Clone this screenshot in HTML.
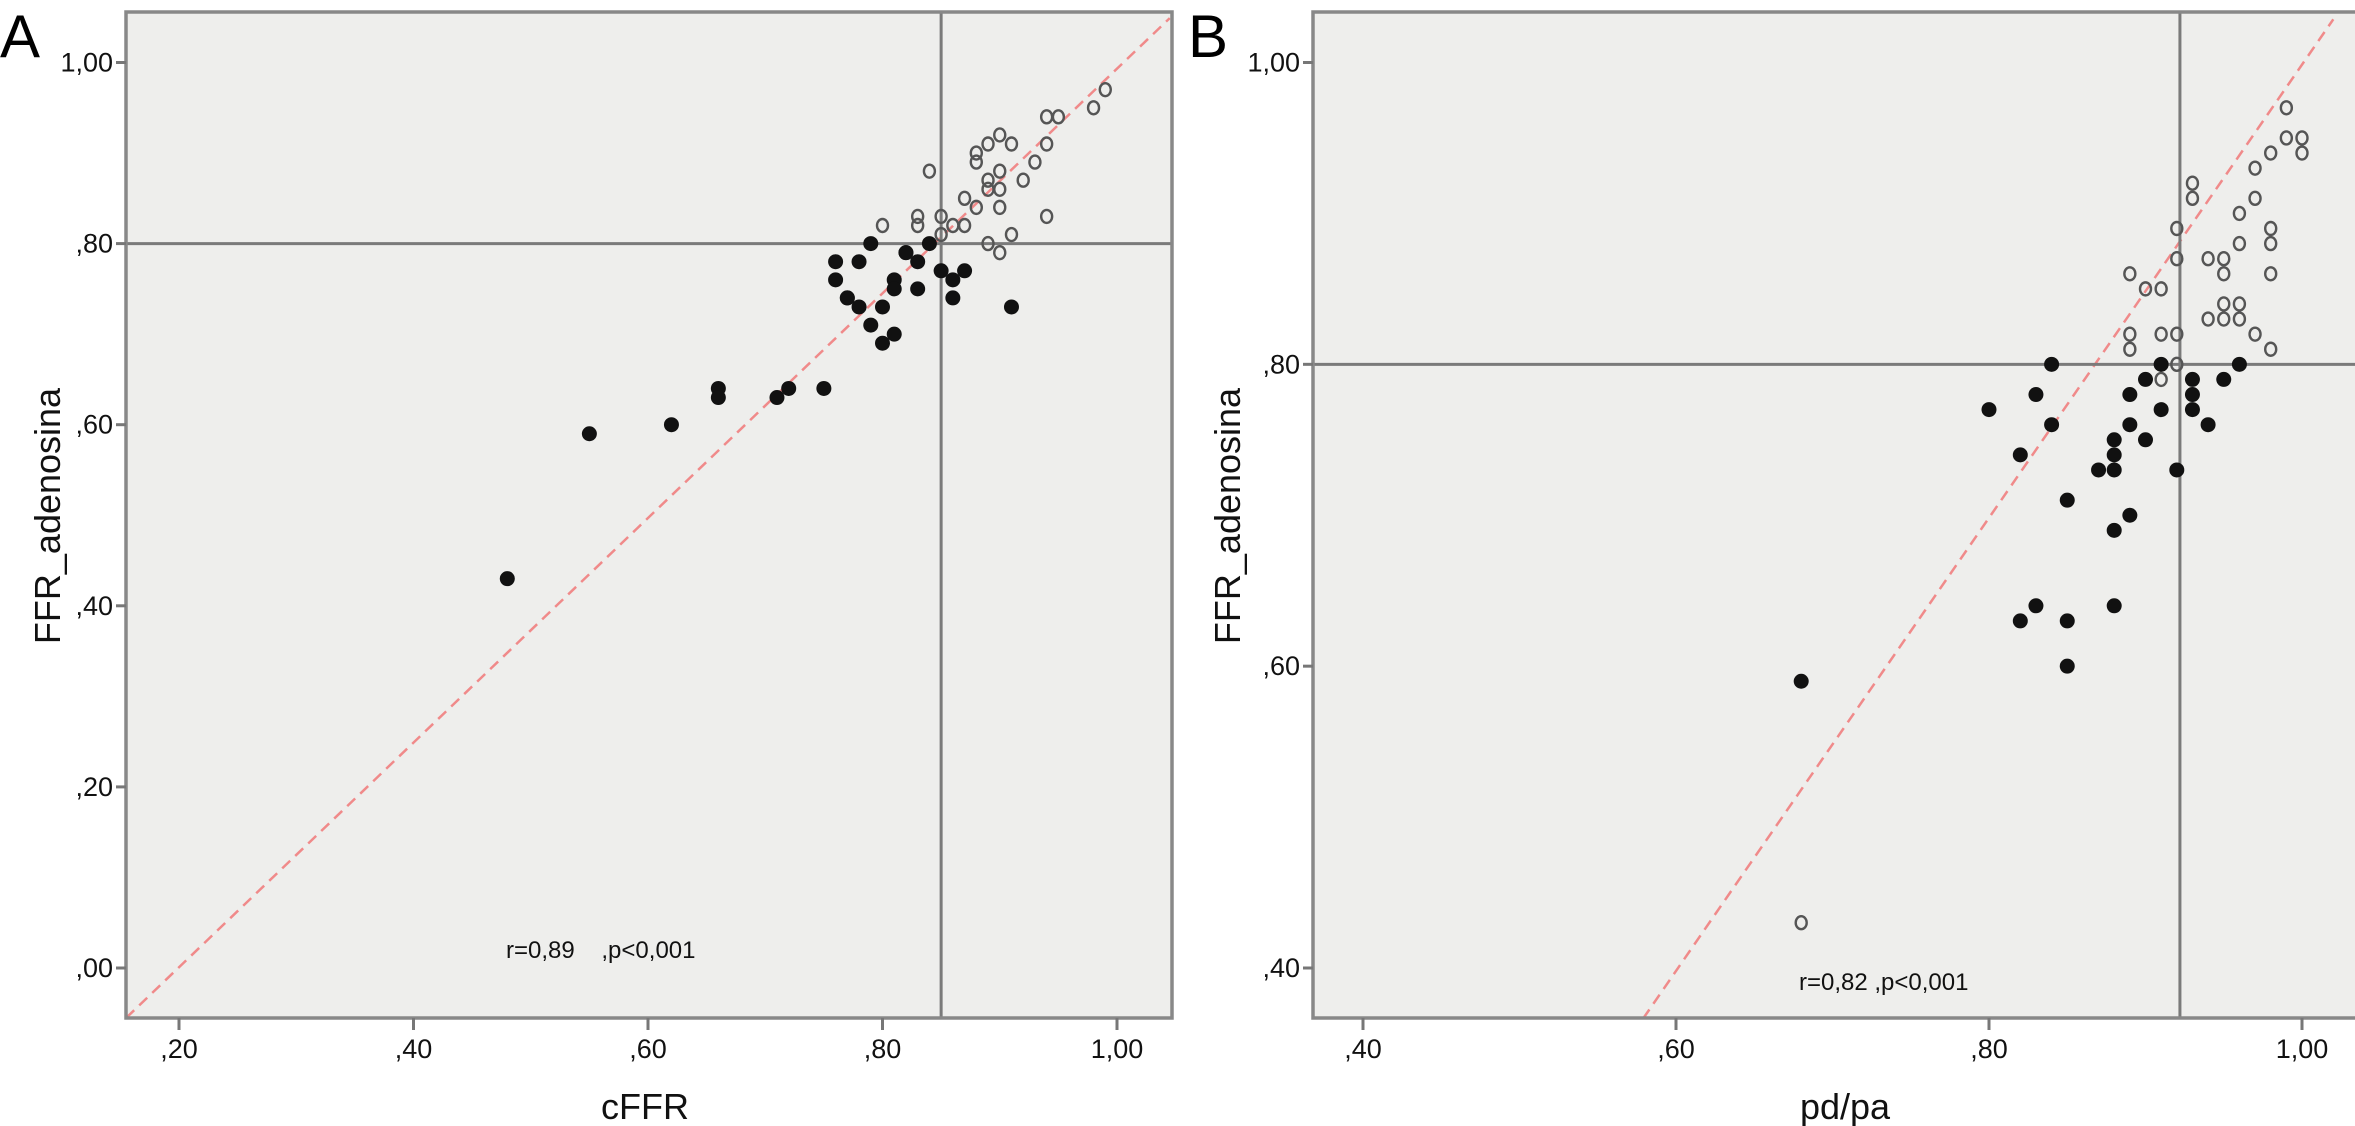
<!DOCTYPE html>
<html><head><meta charset="utf-8"><style>
html,body{margin:0;padding:0;background:#fff;}
svg{display:block;font-family:"Liberation Sans",sans-serif;}
text{white-space:pre;}
</style></head><body>
<svg id="fig" width="2355" height="1126" viewBox="0 0 2355 1126" xmlns="http://www.w3.org/2000/svg">
<g id="panelA"></g>
<g id="panelB"></g>
</svg>
<script>
// Panel A data (cFFR vs FFR_adenosina)
const aFilledX=[0.48,0.55,0.62,0.66,0.66,0.71,0.72,0.75,0.76,0.76,0.77,0.77,0.78,0.79,0.78,0.79,0.80,0.80,0.81,0.81,0.81,0.82,0.82,0.83,0.83,0.84,0.85,0.86,0.86,0.87,0.91];
const aFilledY=[0.43,0.59,0.60,0.64,0.63,0.63,0.64,0.64,0.78,0.76,0.74,0.74,0.78,0.80,0.73,0.71,0.73,0.69,0.70,0.76,0.75,0.79,0.79,0.78,0.75,0.80,0.77,0.76,0.74,0.77,0.73];
const aOpenX=[0.80,0.83,0.83,0.84,0.85,0.85,0.86,0.87,0.87,0.88,0.88,0.88,0.89,0.89,0.89,0.89,0.90,0.90,0.90,0.90,0.90,0.91,0.91,0.92,0.93,0.94,0.94,0.94,0.95,0.98,0.99];
const aOpenY=[0.82,0.83,0.82,0.88,0.83,0.81,0.82,0.85,0.82,0.84,0.90,0.89,0.86,0.91,0.80,0.87,0.92,0.88,0.86,0.84,0.79,0.91,0.81,0.87,0.89,0.94,0.91,0.83,0.94,0.95,0.97];
const aXTicks=[0.2,0.4,0.6,0.8,1.0];
const aXTickLabels=[",20",",40",",60",",80","1,00"];
const aYTicks=[0.0,0.2,0.4,0.6,0.8,1.0];
const aYTickLabels=[",00",",20",",40",",60",",80","1,00"];
const aRefX=[0.85];
const aRefY=[0.80];
const aFitX=[0.155,1.045];
const aFitY=[-0.055,1.049];
// Panel B data (pd/pa vs FFR_adenosina)
const bFilledX=[0.68,0.80,0.82,0.82,0.83,0.83,0.84,0.84,0.85,0.85,0.85,0.87,0.88,0.88,0.88,0.88,0.88,0.89,0.89,0.89,0.90,0.90,0.91,0.91,0.92,0.93,0.93,0.93,0.94,0.95,0.96];
const bFilledY=[0.59,0.77,0.74,0.63,0.78,0.64,0.80,0.76,0.71,0.63,0.60,0.73,0.75,0.74,0.73,0.69,0.64,0.78,0.76,0.70,0.79,0.75,0.80,0.77,0.73,0.79,0.78,0.77,0.76,0.79,0.80];
const bOpenX=[0.68,0.89,0.89,0.89,0.90,0.91,0.91,0.91,0.92,0.92,0.92,0.92,0.93,0.93,0.94,0.94,0.95,0.95,0.95,0.95,0.96,0.96,0.96,0.96,0.97,0.97,0.97,0.98,0.98,0.98,0.98,0.98,0.99,0.99,1.00,1.00];
const bOpenY=[0.43,0.86,0.82,0.81,0.85,0.85,0.82,0.79,0.89,0.87,0.82,0.80,0.92,0.91,0.87,0.83,0.87,0.86,0.84,0.83,0.90,0.88,0.84,0.83,0.93,0.91,0.82,0.94,0.89,0.88,0.86,0.81,0.97,0.95,0.95,0.94];
const bXTicks=[0.4,0.6,0.8,1.0];
const bXTickLabels=[",40",",60",",80","1,00"];
const bYTicks=[0.4,0.6,0.8,1.0];
const bYTickLabels=[",40",",60",",80","1,00"];
const bRefX=[0.922];
const bRefY=[0.80];
const bFitX=[0.579,1.02];
const bFitY=[0.3665,1.0286];

const NS="http://www.w3.org/2000/svg";
function mk(parent,tag,attrs,text){
  const e=document.createElementNS(NS,tag);
  for(const k in attrs)e.setAttribute(k,attrs[k]);
  if(text!==undefined)e.textContent=text;
  parent.appendChild(e);return e;
}
function panel(g,cfg){
  const sx=v=>cfg.x0px+(v-cfg.x0)*(cfg.x1px-cfg.x0px)/(cfg.x1-cfg.x0);
  const sy=v=>cfg.y0px+(v-cfg.y0)*(cfg.y1px-cfg.y0px)/(cfg.y1-cfg.y0);
  const L=cfg.left,T=12,R=cfg.right,B=1018;
  const clipId='clip'+cfg.id;
  const cp=mk(g,'clipPath',{id:clipId});
  mk(cp,'rect',{x:L,y:T,width:R-L,height:B-T});
  const bg=mk(g,'rect',{x:L,y:T,width:R-L,height:B-T,fill:'#eeeeec'});
  
  
  const inner=mk(g,'g',{'clip-path':'url(#'+clipId+')'});
  const fx=cfg.fitX, fy=cfg.fitY;
  const fl=mk(inner,'line',{x1:sx(fx[0]),y1:sy(fy[0]),x2:sx(fx[1]),y2:sy(fy[1]),stroke:'#f08a8a','stroke-width':2.5,'stroke-dasharray':'11 7'});
  
  
  cfg.refX.forEach(v=>{
    const l=mk(inner,'line',{x1:sx(v),y1:T,x2:sx(v),y2:B,stroke:'#7a7a7a','stroke-width':3});
    
    
  });
  cfg.refY.forEach(v=>{
    const l=mk(inner,'line',{x1:L,y1:sy(v),x2:R,y2:sy(v),stroke:'#7a7a7a','stroke-width':3});
    
    
  });
  cfg.openX.forEach((v,i)=>{
    const c=mk(inner,'ellipse',{cx:sx(v),cy:sy(cfg.openY[i]),rx:5.5,ry:6.5,fill:'none',stroke:'#555','stroke-width':2.4});
    
    
  });
  cfg.filledX.forEach((v,i)=>{
    const c=mk(inner,'circle',{cx:sx(v),cy:sy(cfg.filledY[i]),r:7.5,fill:'#111'});
    
    
  });
  const fr=mk(g,'rect',{x:L,y:T,width:R-L,height:B-T,fill:'none',stroke:'#888','stroke-width':3.5});
  
  
  cfg.xTicks.forEach((v,i)=>{
    mk(g,'line',{x1:sx(v),y1:B,x2:sx(v),y2:B+12,stroke:'#777','stroke-width':3});
    const t=mk(g,'text',{x:sx(v),y:1058,'font-size':27,'text-anchor':'middle',fill:'#111'},cfg.xTickLabels[i]);
    
    
  });
  cfg.yTicks.forEach((v,i)=>{
    mk(g,'line',{x1:L-10,y1:sy(v),x2:L,y2:sy(v),stroke:'#777','stroke-width':3});
    const t=mk(g,'text',{x:L-13,y:sy(v)+9,'font-size':27,'text-anchor':'end',fill:'#111'},cfg.yTickLabels[i]);
    
    
  });
  const xt=mk(g,'text',{x:cfg.xTitleX,y:1119,'font-size':36,'text-anchor':'middle',fill:'#111'},cfg.xTitle);
  
  
  const yt=mk(g,'text',{x:0,y:0,'font-size':36,'text-anchor':'middle',fill:'#111',transform:'translate('+cfg.yTitleX+',516) rotate(-90)'},'FFR_adenosina');
  
  
  const st=mk(g,'text',{x:cfg.statX,y:cfg.statY,'font-size':24,fill:'#111'},cfg.stat);
  
  
  const pl=mk(g,'text',{x:cfg.letterX,y:57,'font-size':60,fill:'#000'},cfg.letter);
  
  
}
panel(document.getElementById('panelA'),{id:'A',left:126,right:1172,
  x0:0.2,x1:1.0,x0px:179,x1px:1117,y0:0,y1:1,y0px:968,y1px:62.5,
  filledX:aFilledX,filledY:aFilledY,openX:aOpenX,openY:aOpenY,
  xTicks:aXTicks,xTickLabels:aXTickLabels,yTicks:aYTicks,yTickLabels:aYTickLabels,
  refX:aRefX,refY:aRefY,fitX:aFitX,fitY:aFitY,
  xTitle:'cFFR',xTitleX:645,yTitleX:60,stat:'r=0,89    ,p<0,001',statX:506,statY:958,letter:'A',letterX:0});
panel(document.getElementById('panelB'),{id:'B',left:1313,right:2370,
  x0:0.4,x1:1.0,x0px:1363,x1px:2302,y0:0.4,y1:1,y0px:968,y1px:62.5,
  filledX:bFilledX,filledY:bFilledY,openX:bOpenX,openY:bOpenY,
  xTicks:bXTicks,xTickLabels:bXTickLabels,yTicks:bYTicks,yTickLabels:bYTickLabels,
  refX:bRefX,refY:bRefY,fitX:bFitX,fitY:bFitY,
  xTitle:'pd/pa',xTitleX:1845,yTitleX:1240,stat:'r=0,82 ,p<0,001',statX:1799,statY:990,letter:'B',letterX:1188});
</script>
</body></html>
